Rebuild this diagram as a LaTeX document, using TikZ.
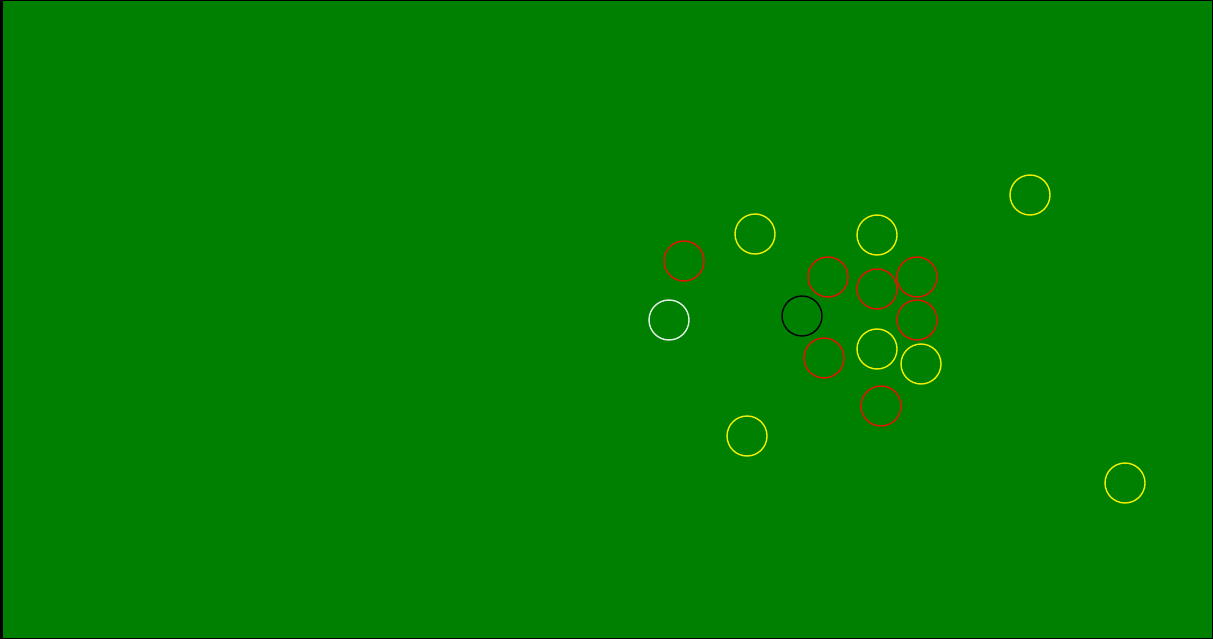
\documentclass[tikz,border=0pt]{standalone}
\definecolor{felt}{RGB}{0,128,0}
\definecolor{ballred}{RGB}{230,20,0}
\definecolor{ballyellow}{RGB}{240,240,0}
\definecolor{ballwhite}{RGB}{225,240,230}
\tikzset{
  ball/.style={circle, draw, line width=1.4pt, minimum size=40pt, inner sep=0pt},
  redball/.style={ball, draw=ballred},
  yellowball/.style={ball, draw=ballyellow},
  whiteball/.style={ball, draw=ballwhite},
  blackball/.style={ball, draw=black},
}
\begin{document}
\begin{tikzpicture}[x=1pt,y=-1pt]
\useasboundingbox (0,0) rectangle (1213,639);
\fill[black] (0,0) rectangle (1213,639);
\fill[felt] (3,1.5) rectangle (1211.5,637.5);
\node[redball] (r1) at (684,261) {};
\node[yellowball] (y1) at (755,234) {};
\node[whiteball] (w) at (669,320) {};
\node[blackball] (b) at (802,316) {};
\node[redball] (r2) at (828,277) {};
\node[yellowball] (y2) at (877,235) {};
\node[redball] (r3) at (877,289) {};
\node[redball] (r4) at (917,277) {};
\node[redball] (r5) at (917,320) {};
\node[yellowball] (y3) at (877,349) {};
\node[yellowball] (y4) at (921,364) {};
\node[redball] (r6) at (824,358) {};
\node[redball] (r7) at (881,406) {};
\node[yellowball] (y5) at (747,436) {};
\node[yellowball] (y6) at (1030,195) {};
\node[yellowball] (y7) at (1125,483) {};
\end{tikzpicture}
\end{document}
